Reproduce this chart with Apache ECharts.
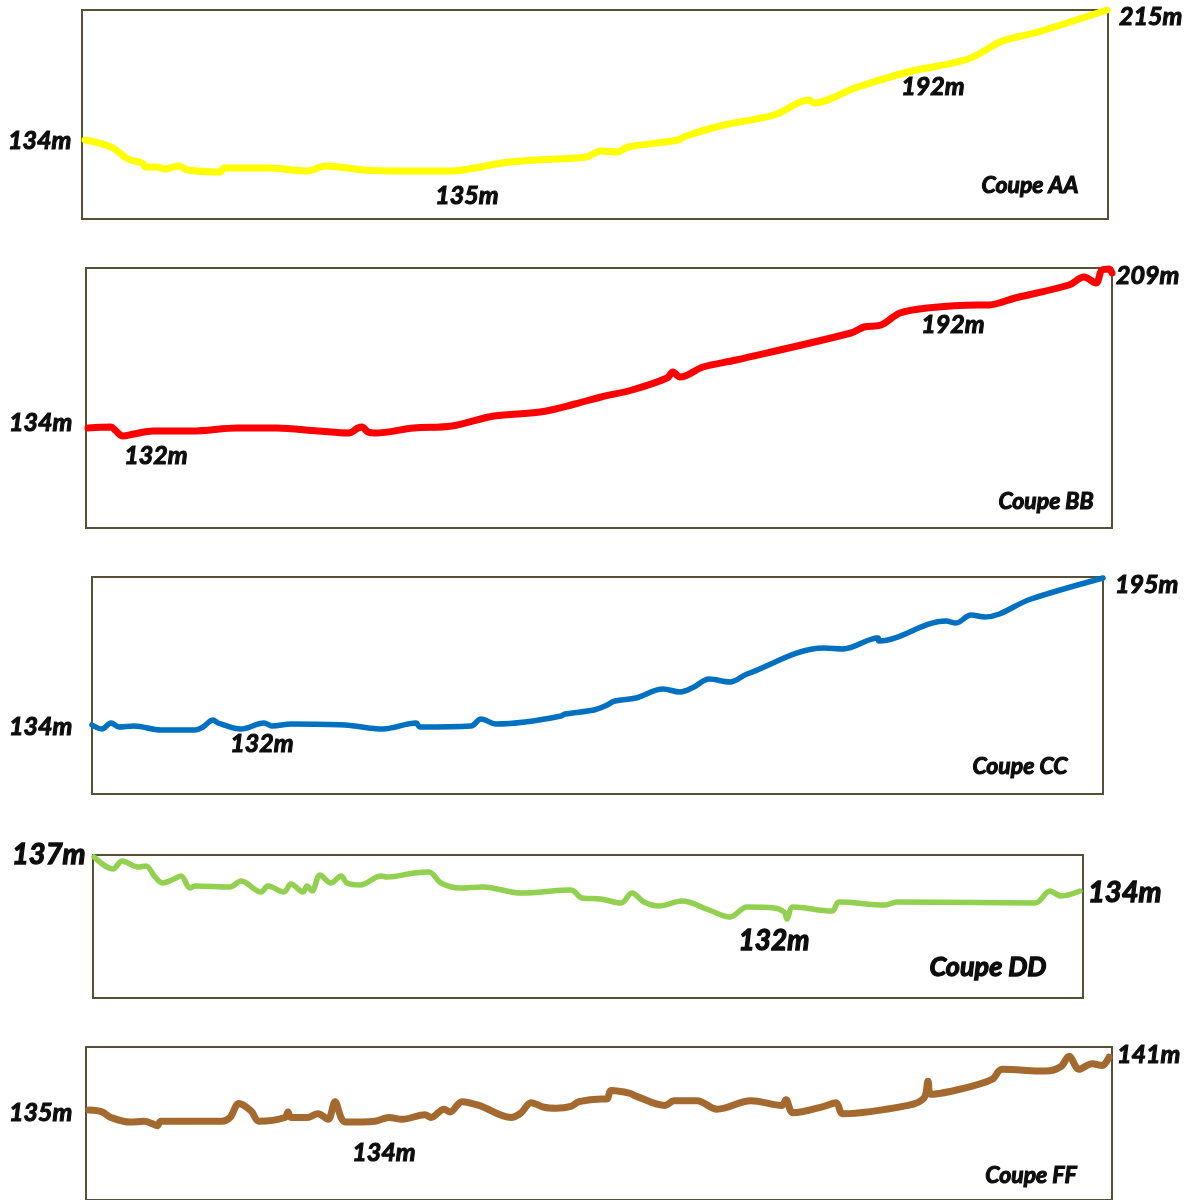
<!DOCTYPE html>
<html>
<head>
<meta charset="utf-8">
<script src="https://cdn.jsdelivr.net/npm/echarts@6/dist/echarts.min.js"></script>
<style>
  html, body { margin: 0; padding: 0; background: #ffffff; }
  #chart { width: 1194px; height: 1200px; }
</style>
</head>
<body>
<div id="chart"></div>
<script>
// Profiles: [distance along section, relative height]
const profileAA = [[3,79],[29,72],[46,60],[60,56],[64,52],[75,52],[83,50],[96,53],[106,49],[138,47],[142,51],[186,51],[225,48],[244,53],[282,49],[320,48],[370,48],[393,51],[420,56],[454,59],[504,62],[519,68],[535,67],[546,72],[596,79],[604,83],[642,94],[692,104],[727,119],[732,116],[773,131],[826,147],[886,160],[918,177],[935,182],[956,187],[1025,209]];
const profileBB = [[2,100],[25,101],[29,98],[37,92],[48,94],[67,97],[106,97],[152,100],[190,100],[232,97],[263,95],[272,100],[276,101],[282,96],[289,95],[328,100],[366,102],[408,112],[454,116],[489,124],[515,131],[546,138],[581,150],[587,156],[594,151],[617,161],[650,168],[765,195],[778,201],[795,203],[814,215],[841,220],[891,223],[903,223],[929,230],[983,243],[998,251],[1010,245],[1016,258],[1023,259],[1026,255]];
const profileCC = [[0,69],[10,65],[19,71],[27,67],[42,68],[69,64],[103,64],[111,67],[121,74],[126,71],[149,65],[172,71],[180,68],[199,70],[253,69],[291,65],[324,71],[328,67],[379,68],[389,75],[404,70],[433,72],[469,78],[473,80],[502,84],[513,88],[523,93],[544,96],[571,105],[588,102],[602,107],[617,115],[638,112],[655,120],[732,146],[751,145],[786,156],[787,153],[854,173],[864,171],[879,179],[893,177],[939,195],[1011,216]];
const profileDD = [[1,141],[20,129],[29,137],[45,131],[53,132],[62,121],[70,115],[81,119],[88,122],[97,110],[102,112],[137,111],[148,117],[168,106],[175,112],[191,106],[198,114],[210,106],[214,112],[219,107],[227,123],[238,115],[248,122],[254,115],[267,113],[288,122],[294,121],[321,125],[336,126],[348,115],[367,110],[390,111],[428,105],[478,108],[489,100],[508,99],[528,95],[539,105],[551,96],[566,92],[589,97],[616,88],[637,81],[654,91],[681,90],[691,86],[694,79],[700,91],[739,87],[746,96],[792,93],[804,96],[942,95],[957,107],[968,102],[987,107]];
const profileFF = [[3,97],[16,95],[25,89],[44,84],[58,85],[67,82],[71,80],[75,85],[98,85],[136,85],[144,89],[153,104],[165,96],[173,85],[199,89],[202,95],[205,89],[221,89],[232,93],[242,87],[249,106],[255,89],[259,84],[289,85],[303,89],[316,87],[339,92],[345,89],[358,98],[364,95],[376,106],[393,102],[425,89],[435,94],[445,105],[458,100],[470,99],[485,101],[493,106],[515,109],[521,109],[525,118],[544,115],[550,112],[579,102],[588,107],[611,107],[631,98],[665,107],[696,102],[700,108],[707,94],[738,101],[750,105],[757,93],[822,102],[838,110],[842,128],[845,114],[876,120],[906,130],[916,141],[960,139],[975,144],[983,155],[993,141],[1006,147],[1016,145],[1023,154]];

const sectionNames = ['Coupe AA','Coupe BB','Coupe CC','Coupe DD','Coupe FF'];
const altitudeLabelsAA = ['134m','135m','192m','215m'];
const altitudeLabelsBB = ['134m','132m','192m','209m'];
const altitudeLabelsCC = ['134m','132m','195m'];
const altitudeLabelsDD = ['137m','132m','134m'];
const altitudeLabelsFF = ['135m','134m','141m'];

const profiles = [profileAA, profileBB, profileCC, profileDD, profileFF];
const colors = ['#FFFF00','#FF0000','#0070C0','#92D050','#A4692F'];
const widths = [7, 7, 5.5, 5.5, 7];
const boxes = [
  {left: 82, top: 10, width: 1026, height: 209},
  {left: 86, top: 268, width: 1026, height: 260},
  {left: 92, top: 577, width: 1011, height: 217},
  {left: 93, top: 855, width: 990, height: 143},
  {left: 86, top: 1047, width: 1026, height: 165}
];

const FONT = 'Lato, "Open Sans", sans-serif';
function txt(s, x, y, size, align) {
  return {
    type: 'text', x: x, y: y, silent: true,
    style: {
      text: s, x: 0, y: 0, fill: '#0d0d0d',
      stroke: '#0d0d0d', lineWidth: size > 25 ? 1.3 : 1.1,
      font: 'italic bold ' + size + 'px ' + FONT,
      textAlign: align || 'left', textVerticalAlign: 'middle'
    }
  };
}

const graphics = [
  // AA
  txt(altitudeLabelsAA[0], 8, 141, 25), txt(altitudeLabelsAA[1], 467, 196, 25, 'center'),
  txt(altitudeLabelsAA[2], 933, 87, 25, 'center'), txt(altitudeLabelsAA[3], 1119, 17, 25),
  txt(sectionNames[0], 1030, 186, 23, 'center'),
  // BB
  txt(altitudeLabelsBB[0], 9, 423, 25), txt(altitudeLabelsBB[1], 156, 456, 25, 'center'),
  txt(altitudeLabelsBB[2], 953, 325, 25, 'center'), txt(altitudeLabelsBB[3], 1116, 276, 25),
  txt(sectionNames[1], 1046, 502, 23, 'center'),
  // CC
  txt(altitudeLabelsCC[0], 9, 727, 25), txt(altitudeLabelsCC[1], 262, 744, 25, 'center'),
  txt(altitudeLabelsCC[2], 1115, 585, 25),
  txt(sectionNames[2], 1020, 767, 23, 'center'),
  // DD
  txt(altitudeLabelsDD[0], 12, 855, 29), txt(altitudeLabelsDD[1], 774, 941, 28, 'center'),
  txt(altitudeLabelsDD[2], 1088, 893, 29),
  txt(sectionNames[3], 988, 967, 27, 'center'),
  // FF
  txt(altitudeLabelsFF[0], 9, 1113, 25), txt(altitudeLabelsFF[1], 384, 1153, 25, 'center'),
  txt(altitudeLabelsFF[2], 1117, 1055, 25),
  txt(sectionNames[4], 1031, 1176, 23, 'center')
];

const grid = [], xAxis = [], yAxis = [], series = [];
boxes.forEach((b, i) => {
  grid.push({
    left: b.left, top: b.top, width: b.width, height: b.height,
    show: true, borderColor: '#575034', borderWidth: 2, backgroundColor: 'transparent'
  });
  xAxis.push({ type: 'value', gridIndex: i, min: 0, max: b.width, show: false });
  yAxis.push({ type: 'value', gridIndex: i, min: 0, max: b.height, show: false });
  series.push({
    type: 'line', name: sectionNames[i], xAxisIndex: i, yAxisIndex: i,
    data: profiles[i], smooth: 0.35, showSymbol: false, clip: false,
    lineStyle: { color: colors[i], width: widths[i], cap: 'round', join: 'round' },
    silent: true, animation: false
  });
});

const chart = echarts.init(document.getElementById('chart'), null, { renderer: 'canvas' });
chart.setOption({
  backgroundColor: '#ffffff',
  animation: false,
  grid, xAxis, yAxis, series,
  graphic: graphics
});
</script>
</body>
</html>
